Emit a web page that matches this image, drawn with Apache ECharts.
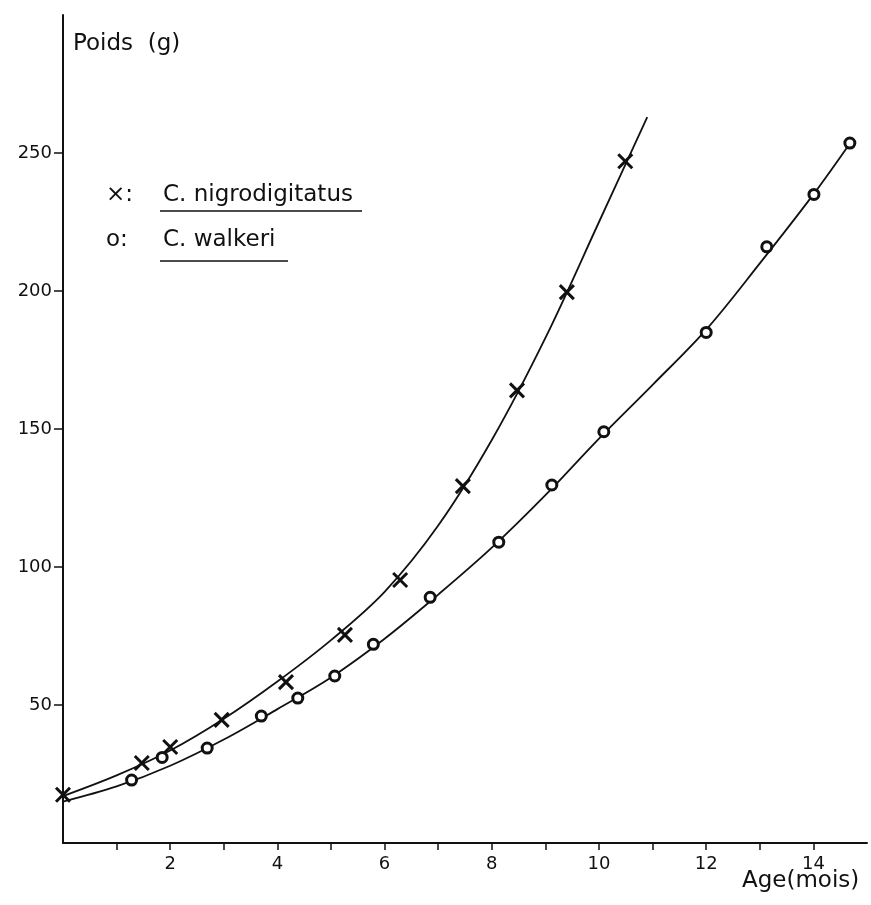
<!DOCTYPE html>
<html>
<head>
<meta charset="utf-8">
<script src="https://cdn.jsdelivr.net/npm/echarts@6/dist/echarts.min.js"></script>
<style>
  html, body { margin: 0; padding: 0; background: #fff; }
  #chart { width: 871px; height: 905px; }
</style>
</head>
<body>
<div id="chart"></div>
<script>
  // courbes (age en mois, poids en g)
  var nigroCurveX = [0, 1, 2, 3, 4, 5, 6, 7, 8, 9, 10, 10.9]
  var nigroCurveY = [17, 24.5, 33.5, 45, 58.5, 73.5, 91, 115, 146, 183, 225, 263]
  var walkCurveX = [0, 1, 2, 3, 4, 5, 6, 7, 8, 9, 10, 11, 12, 13, 14, 14.7]
  var walkCurveY = [15, 20.5, 28, 37.5, 48.5, 60, 74, 90, 107, 126, 146.5, 166, 186, 210, 235, 254]

  // points mesures
  var nigroX = [0, 1.47, 2.0, 2.96, 4.16, 5.26, 6.29, 7.46, 8.47, 9.4, 10.49]
  var nigroY = [17.5, 29, 34.8, 44.6, 58.3, 75.4, 95.3, 129.3, 164, 199.6, 247]
  var walkX = [1.28, 1.85, 2.69, 3.7, 4.38, 5.07, 5.79, 6.85, 8.13, 9.12, 10.09, 12.0, 13.13, 14.01, 14.68]
  var walkY = [22.8, 31, 34.4, 46, 52.5, 60.5, 72, 89, 109, 129.7, 149, 185, 216, 235, 253.6]

  var yTicks = [50, 100, 150, 200, 250]
  var xTicks = [1, 2, 3, 4, 5, 6, 7, 8, 9, 10, 11, 12, 13, 14]
  var xLabels = [2, 4, 6, 8, 10, 12, 14]

  function zip(xs, ys) {
    return xs.map(function (x, i) { return [x, ys[i]] })
  }

  var ink = '#111'
  var font = 'DejaVu Sans'
  var big = '23px "DejaVu Sans"'

  var chart = echarts.init(document.getElementById('chart'))
  var option = {
    backgroundColor: '#fff',
    animation: false,
    grid: { left: 63, right: 4, top: 15, bottom: 62 },
    xAxis: {
      type: 'value',
      min: 0,
      max: 15,
      axisLine: { show: true, lineStyle: { color: ink, width: 2 } },
      axisTick: { show: true, length: 7, customValues: xTicks, lineStyle: { color: ink, width: 1.5 } },
      axisLabel: { customValues: xLabels, margin: 12, color: ink, fontFamily: font, fontSize: 18 },
      splitLine: { show: false }
    },
    yAxis: {
      type: 'value',
      min: 0,
      max: 300,
      axisLine: { show: true, lineStyle: { color: ink, width: 2 } },
      axisTick: { show: true, length: 9, customValues: yTicks, lineStyle: { color: ink, width: 1.5 } },
      axisLabel: { customValues: yTicks, margin: 11, color: ink, fontFamily: font, fontSize: 18 },
      splitLine: { show: false }
    },
    graphic: [
      { type: 'text', left: 73, top: 33, style: { text: 'Poids  (g)', fill: ink, font: big } },
      { type: 'text', left: 742, top: 870, style: { text: 'Age(mois)', fill: ink, font: big } },
      { type: 'text', left: 106, top: 184, style: { text: '×:', fill: ink, font: big } },
      { type: 'text', left: 163, top: 184, style: { text: 'C. nigrodigitatus', fill: ink, font: big } },
      { type: 'line', shape: { x1: 160, y1: 211, x2: 362, y2: 211 }, style: { stroke: ink, lineWidth: 1.5 } },
      { type: 'text', left: 106, top: 229, style: { text: 'o:', fill: ink, font: big } },
      { type: 'text', left: 163, top: 229, style: { text: 'C. walkeri', fill: ink, font: big } },
      { type: 'line', shape: { x1: 160, y1: 261, x2: 288, y2: 261 }, style: { stroke: ink, lineWidth: 1.5 } }
    ],
    series: [
      {
        name: 'C. nigrodigitatus (courbe)',
        type: 'line',
        data: zip(nigroCurveX, nigroCurveY),
        smooth: 0.35,
        showSymbol: false,
        lineStyle: { color: ink, width: 1.8 },
        z: 2
      },
      {
        name: 'C. walkeri (courbe)',
        type: 'line',
        data: zip(walkCurveX, walkCurveY),
        smooth: 0.35,
        showSymbol: false,
        lineStyle: { color: ink, width: 1.8 },
        z: 2
      },
      {
        name: 'C. nigrodigitatus',
        type: 'scatter',
        data: zip(nigroX, nigroY),
        symbol: 'path://M0,0L10,10M10,0L0,10',
        symbolSize: 14,
        clip: false,
        itemStyle: { color: 'transparent', borderColor: ink, borderWidth: 3, opacity: 1 },
        z: 3
      },
      {
        name: 'C. walkeri',
        type: 'scatter',
        data: zip(walkX, walkY),
        symbol: 'circle',
        symbolSize: 10,
        clip: false,
        itemStyle: { color: '#fff', borderColor: ink, borderWidth: 3, opacity: 1 },
        z: 3
      }
    ]
  }
  chart.setOption(option)
</script>
</body>
</html>
